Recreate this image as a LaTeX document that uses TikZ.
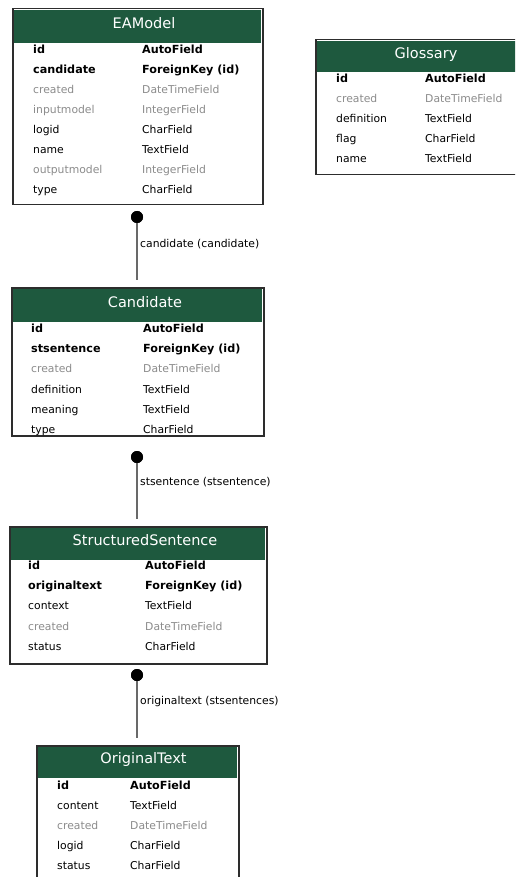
\documentclass[tikz,border=0pt]{standalone}
\usepackage{fontspec}
\setmainfont{DejaVu Sans}
\definecolor{hdr}{RGB}{30,89,62}
\definecolor{boxline}{RGB}{45,45,45}
\definecolor{dimtext}{RGB}{140,140,140}
\definecolor{connline}{RGB}{105,105,105}
\begin{document}
\begin{tikzpicture}[x=1pt,y=-1pt,
  tbl/.style={draw=boxline, line width=1.5pt, fill=white, anchor=north west, inner sep=0pt},
  hdrbar/.style={fill=hdr, anchor=north west, inner sep=0pt},
  title/.style={text=white, inner sep=0pt, anchor=mid, font=\fontsize{14.5}{16}\selectfont},
  fld/.style={anchor=mid west, inner sep=0pt, font=\fontsize{10.8}{12}\selectfont},
  key/.style={fld, font=\fontsize{11.2}{12}\selectfont\bfseries},
  dim/.style={fld, text=dimtext},
  conn/.style={draw=connline, line width=2pt},
  dot/.style={circle, fill=black, inner sep=0pt, minimum size=12pt},
  lbl/.style={anchor=mid west, inner sep=0pt, font=\fontsize{10.8}{12}\selectfont}]
\useasboundingbox (0,0) rectangle (515,877);
\clip (0,0) rectangle (515,877);

% ---------- EAModel ----------
\node[tbl, minimum width=250pt, minimum height=196pt] (eam) at (12,8) {};
\node[hdrbar, minimum width=247pt, minimum height=33pt] (eamh) at (13.5,10) {};
\node[title] (eamt) at (144,26) {EAModel};
\node[key] (eam1a) at (33,51) {id};          \node[key] (eam1b) at (142,51) {AutoField};
\node[key] (eam2a) at (33,71) {candidate};   \node[key] (eam2b) at (142,71) {ForeignKey (id)};
\node[dim] (eam3a) at (33,91) {created};     \node[dim] (eam3b) at (142,91) {DateTimeField};
\node[dim] (eam4a) at (33,111) {inputmodel}; \node[dim] (eam4b) at (142,111) {IntegerField};
\node[fld] (eam5a) at (33,131) {logid};      \node[fld] (eam5b) at (142,131) {CharField};
\node[fld] (eam6a) at (33,151) {name};       \node[fld] (eam6b) at (142,151) {TextField};
\node[dim] (eam7a) at (33,171) {outputmodel};\node[dim] (eam7b) at (142,171) {IntegerField};
\node[fld] (eam8a) at (33,191) {type};       \node[fld] (eam8b) at (142,191) {CharField};

% ---------- Glossary ----------
\node[tbl, minimum width=222pt, minimum height=135pt] (glo) at (315,39) {};
\node[hdrbar, minimum width=219pt, minimum height=31pt] (gloh) at (316.5,41) {};
\node[title] (glot) at (426,56) {Glossary};
\node[key] (glo1a) at (336,80) {id};          \node[key] (glo1b) at (425,80) {AutoField};
\node[dim] (glo2a) at (336,100) {created};    \node[dim] (glo2b) at (425,100) {DateTimeField};
\node[fld] (glo3a) at (336,120) {definition}; \node[fld] (glo3b) at (425,120) {TextField};
\node[fld] (glo4a) at (336,140) {flag};       \node[fld] (glo4b) at (425,140) {CharField};
\node[fld] (glo5a) at (336,160) {name};       \node[fld] (glo5b) at (425,160) {TextField};

% ---------- Candidate ----------
\node[tbl, minimum width=252pt, minimum height=148pt] (cand) at (11,287) {};
\node[hdrbar, minimum width=249pt, minimum height=33pt] (candh) at (12.5,289) {};
\node[title] (candt) at (145,305) {Candidate};
\node[key] (cand1a) at (31,330) {id};          \node[key] (cand1b) at (143,330) {AutoField};
\node[key] (cand2a) at (31,350) {stsentence};  \node[key] (cand2b) at (143,350) {ForeignKey (id)};
\node[dim] (cand3a) at (31,370) {created};     \node[dim] (cand3b) at (143,370) {DateTimeField};
\node[fld] (cand4a) at (31,391) {definition};  \node[fld] (cand4b) at (143,391) {TextField};
\node[fld] (cand5a) at (31,411) {meaning};     \node[fld] (cand5b) at (143,411) {TextField};
\node[fld] (cand6a) at (31,431) {type};        \node[fld] (cand6b) at (143,431) {CharField};

% ---------- StructuredSentence ----------
\node[tbl, minimum width=257pt, minimum height=137pt] (sts) at (9,526) {};
\node[hdrbar, minimum width=254pt, minimum height=32pt] (stsh) at (10.5,528) {};
\node[title] (stst) at (145,543) {StructuredSentence};
\node[key] (sts1a) at (28,567) {id};           \node[key] (sts1b) at (145,567) {AutoField};
\node[key] (sts2a) at (28,587) {originaltext}; \node[key] (sts2b) at (145,587) {ForeignKey (id)};
\node[fld] (sts3a) at (28,607) {context};      \node[fld] (sts3b) at (145,607) {TextField};
\node[dim] (sts4a) at (28,628) {created};      \node[dim] (sts4b) at (145,628) {DateTimeField};
\node[fld] (sts5a) at (28,648) {status};       \node[fld] (sts5b) at (145,648) {CharField};

% ---------- OriginalText ----------
\node[tbl, minimum width=202pt, minimum height=140pt] (ot) at (36,745) {};
\node[hdrbar, minimum width=199pt, minimum height=31pt] (oth) at (37.5,747) {};
\node[title] (ott) at (143.5,761) {OriginalText};
\node[key] (ot1a) at (57,787) {id};        \node[key] (ot1b) at (130,787) {AutoField};
\node[fld] (ot2a) at (57,807) {content};   \node[fld] (ot2b) at (130,807) {TextField};
\node[dim] (ot3a) at (57,827) {created};   \node[dim] (ot3b) at (130,827) {DateTimeField};
\node[fld] (ot4a) at (57,847) {logid};     \node[fld] (ot4b) at (130,847) {CharField};
\node[fld] (ot5a) at (57,867) {status};    \node[fld] (ot5b) at (130,867) {CharField};

% ---------- relations ----------
\node[dot] (d1) at (137,217) {};
\draw[conn, shorten >=7pt] (d1.center) -- (cand.north -| d1);
\node[dot] (d1b) at (137,217) {};
\node[lbl] (l1) at (140,245) {candidate (candidate)};

\node[dot] (d2) at (137,457) {};
\draw[conn, shorten >=7pt] (d2.center) -- (sts.north -| d2);
\node[dot] (d2b) at (137,457) {};
\node[lbl] (l2) at (140,483) {stsentence (stsentence)};

\node[dot] (d3) at (137,675) {};
\draw[conn, shorten >=7pt] (d3.center) -- (ot.north -| d3);
\node[dot] (d3b) at (137,675) {};
\node[lbl] (l3) at (140,702) {originaltext (stsentences)};
\end{tikzpicture}
\end{document}
